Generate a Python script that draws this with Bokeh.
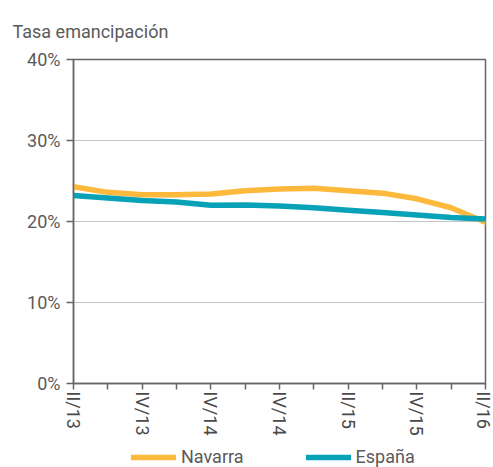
from bokeh.plotting import figure
from bokeh.layouts import column
from bokeh.models import Range1d, FixedTicker, Legend, LegendItem, PrintfTickFormatter
from bokeh.embed import file_html
from bokeh.resources import INLINE

quarters = ["II/13", "III/13", "IV/13", "I/14", "II/14", "III/14", "IV/14",
            "I/15", "II/15", "III/15", "IV/15", "I/16", "II/16"]
tick_labels = ["II/13", "", "IV/13", "", "IV/14", "", "IV/14",
               "", "II/15", "", "IV/15", "", "II/16"]
navarra = [24.3, 23.6, 23.3, 23.3, 23.4, 23.8, 24.0, 24.1, 23.8, 23.5, 22.8, 21.7, 19.9]
espana = [23.2, 22.9, 22.6, 22.4, 22.0, 22.05, 21.9, 21.7, 21.4, 21.1, 20.8, 20.5, 20.3]
y_ticks = [0, 10, 20, 30, 40]
series_names = ["Navarra", "España"]

FONT = "Roboto"
TXT = "#5a5a5a"
AX = "#666666"
C_NAV = "#FDB93C"
C_ESP = "#08A2B8"

x = list(range(len(quarters)))

p = figure(width=493, height=445, output_backend="svg", toolbar_location=None,
           x_range=Range1d(0, len(quarters) - 1), y_range=Range1d(0, 40),
           min_border_left=73, min_border_right=8, min_border_top=59, min_border_bottom=62,
           title="Tasa emancipación")
p.title.align = "left"
p.title.offset = -61
p.title.standoff = 36
p.title.text_font = FONT
p.title.text_font_size = "18px"
p.title.text_font_style = "normal"
p.title.text_color = TXT

p.outline_line_color = AX
p.outline_line_width = 1.5
p.background_fill_color = "white"
p.border_fill_color = "white"

p.xgrid.grid_line_color = None
p.ygrid.grid_line_color = "#c4c4c4"
p.ygrid.grid_line_width = 1

p.xaxis.ticker = FixedTicker(ticks=x)
p.xaxis.major_label_overrides = {i: t for i, t in zip(x, tick_labels)}
p.xaxis.major_label_orientation = "vertical"
p.yaxis.ticker = FixedTicker(ticks=y_ticks)
p.yaxis.formatter = PrintfTickFormatter(format="%d%%")

for ax in (p.xaxis[0], p.yaxis[0]):
    ax.axis_line_color = AX
    ax.axis_line_width = 1.5
    ax.major_tick_line_color = AX
    ax.major_tick_line_width = 1.5
    ax.major_tick_in = 0
    ax.minor_tick_line_color = None
    ax.major_label_text_font = FONT
    ax.major_label_text_font_size = "18px"
    ax.major_label_text_color = TXT
p.xaxis.major_tick_out = 6
p.xaxis.major_label_standoff = 2
p.yaxis.major_tick_out = 7
p.yaxis.major_label_standoff = 6
p.xaxis.major_label_text_color = "#4a4a4a"

p.line(x, navarra, line_color=C_NAV, line_width=5.5, line_cap="round", line_join="round")
p.line(x, espana, line_color=C_ESP, line_width=5.5, line_cap="round", line_join="round")

# Legend strip below the chart (series drawn out of view, legend only)
lg = figure(width=493, height=22, output_backend="svg", toolbar_location=None,
            x_range=Range1d(0, len(quarters) - 1), y_range=Range1d(1000, 1001),
            min_border=0)
lg.axis.visible = False
lg.grid.visible = False
lg.outline_line_color = None
r_nav = lg.line(x, navarra, line_color=C_NAV, line_width=5.5, line_cap="round")
r_esp = lg.line(x, espana, line_color=C_ESP, line_width=5.5, line_cap="round")

legend = Legend(items=[LegendItem(label=series_names[0], renderers=[r_nav]),
                       LegendItem(label=series_names[1], renderers=[r_esp])],
                orientation="horizontal", location=(58, 0))
legend.glyph_width = 45
legend.glyph_height = 14
legend.label_height = 14
legend.label_standoff = 5
legend.spacing = 62
legend.padding = 0
legend.margin = 0
legend.border_line_color = None
legend.background_fill_alpha = 0
legend.label_text_font = FONT
legend.label_text_font_size = "18px"
legend.label_text_color = TXT
lg.add_layout(legend, "center")

open("out.html", "w").write(file_html(column(p, lg, spacing=0), INLINE))
